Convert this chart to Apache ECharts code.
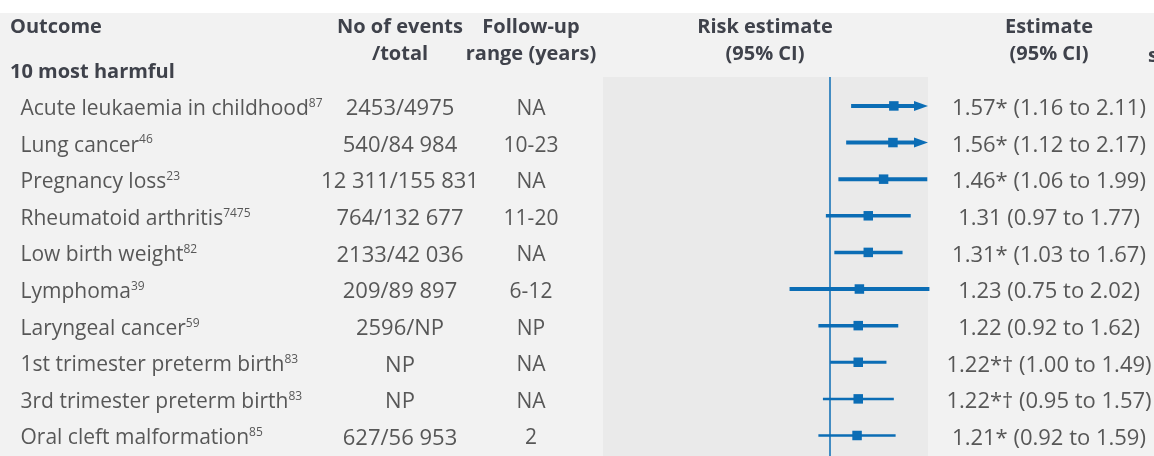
<!DOCTYPE html>
<html>
<head>
<meta charset="utf-8">
<script src="https://cdn.jsdelivr.net/npm/echarts@6/dist/echarts.min.js"></script>
<style>
html,body{margin:0;padding:0;}
#c{width:1154px;height:456px;background:linear-gradient(#ffffff 0px,#ffffff 13px,#f2f2f2 13px,#f2f2f2 456px);}
</style>
</head>
<body>
<div id="c"></div>
<script>
// ---- data ----
const outcomes = ['Acute leukaemia in childhood','Lung cancer','Pregnancy loss','Rheumatoid arthritis','Low birth weight','Lymphoma','Laryngeal cancer','1st trimester preterm birth','3rd trimester preterm birth','Oral cleft malformation'];
const refs = ['87','46','23','7475','82','39','59','83','83','85'];
const events = ['2453/4975','540/84 984','12 311/155 831','764/132 677','2133/42 036','209/89 897','2596/NP','NP','NP','627/56 953'];
const followUp = ['NA','10-23','NA','11-20','NA','6-12','NP','NA','NA','2'];
const estimates = [1.57,1.56,1.46,1.31,1.31,1.23,1.22,1.22,1.22,1.21];
const lower = [1.16,1.12,1.06,0.97,1.03,0.75,0.92,1.00,0.95,0.92];
const upper = [2.11,2.17,1.99,1.77,1.67,2.02,1.62,1.49,1.57,1.59];
const flags = ['*','*','*','','*','','','*\u2020','*\u2020','*'];
const xTicks = [0.2, 1, 2]; // axis range (log scale), reference at 1

// ---- styles ----
const BLUE = '#0b6db5';
const FONT = '"Open Sans"';
const TXT = '#2f2f2f';
const HEAD = '#3f424b';
const ciWidths = [4,4,4,3.5,3.5,4,3.5,3,2.5,2.5];
const ROW_MIN = 0.21, ROW_MAX = 10.56;
const ARROW_LIMIT = 2.05;

const rows = outcomes.map((_, i) => i + 1);
const fmt = v => v.toFixed(2);
const estLabels = estimates.map((e, i) => fmt(e) + flags[i] + ' (' + fmt(lower[i]) + ' to ' + fmt(upper[i]) + ')');

function rowAxis(idx) {
  return {type: 'value', gridIndex: idx, inverse: true, min: ROW_MIN, max: ROW_MAX, show: false};
}
function colAxis(idx) {
  return {type: 'value', gridIndex: idx, min: 0, max: 1, show: false};
}
const gridBase = {top: 77, bottom: 0};
const grids = [
  Object.assign({left: 603, width: 325, show: true, backgroundColor: '#eaeaea', borderWidth: 0}, gridBase),
  Object.assign({left: 20, width: 10}, gridBase),
  Object.assign({left: 395, width: 10}, gridBase),
  Object.assign({left: 526, width: 10}, gridBase),
  Object.assign({left: 1044, width: 10}, gridBase)
];

function textSeries(gi, labels, pos, size, fmtFn) {
  return {
    type: 'scatter', xAxisIndex: gi, yAxisIndex: gi, silent: true,
    symbol: 'circle', symbolSize: 1, itemStyle: {color: 'rgba(0,0,0,0)'},
    data: labels.map((l, i) => [pos, rows[i]]),
    label: {
      show: true, position: pos === 0 ? 'right' : 'inside', distance: 0,
      offset: [0, 3],
      formatter: p => fmtFn(p.dataIndex),
      color: TXT, fontFamily: FONT, fontSize: size,
      rich: {
        n: {color: TXT, fontFamily: FONT, fontSize: size, lineHeight: 23},
        s: {color: TXT, fontFamily: FONT, fontSize: 12, verticalAlign: 'top', lineHeight: 12, padding: [0,0,0,0]}
      }
    }
  };
}

const HFONT = 'bold 20px ' + FONT;
const headStyle = {fill: HEAD, font: HFONT, textAlign: 'center', textVerticalAlign: 'top', lineHeight: 27};

const option = {
  animation: false,
  grid: grids,
  xAxis: [
    {type: 'log', logBase: 10, gridIndex: 0, min: xTicks[0], max: xTicks[2], show: false},
    colAxis(1), colAxis(2), colAxis(3), colAxis(4)
  ],
  yAxis: [rowAxis(0), rowAxis(1), rowAxis(2), rowAxis(3), rowAxis(4)],
  graphic: [
    {type: 'text', x: 10, y: 27.5, style: {text: 'Outcome', fill: HEAD, font: HFONT, textVerticalAlign: 'middle'}},
    {type: 'text', x: 10, y: 72.5, style: {text: '10 most harmful', fill: HEAD, font: HFONT, textVerticalAlign: 'middle'}},
    {type: 'text', x: 400, y: 14, style: Object.assign({text: 'No of events\n/total'}, headStyle)},
    {type: 'text', x: 531, y: 14, style: Object.assign({text: 'Follow-up\nrange (years)'}, headStyle)},
    {type: 'text', x: 765, y: 14, style: Object.assign({text: 'Risk estimate\n(95% CI)'}, headStyle)},
    {type: 'text', x: 1049, y: 14, style: Object.assign({text: 'Estimate\n(95% CI)'}, headStyle)},
    {type: 'text', x: 1148, y: 56, style: {text: 's', fill: HEAD, font: HFONT, textVerticalAlign: 'middle'}}
  ],
  series: [
    {
      type: 'custom', xAxisIndex: 0, yAxisIndex: 0, clip: false, silent: true,
      data: rows.map((r, i) => [lower[i], upper[i], r]),
      encode: {x: [0, 1], y: 2},
      renderItem: function (params, api) {
        const i = params.dataIndex;
        const lo = api.value(0), hi = api.value(1), y = api.value(2);
        const p0 = api.coord([lo, y]);
        const w = ciWidths[i];
        if (hi > ARROW_LIMIT) {
          const tip = api.coord([xTicks[2], y]);
          return {type: 'group', children: [
            {type: 'line', shape: {x1: p0[0], y1: p0[1], x2: tip[0] - 12, y2: p0[1]}, style: {stroke: BLUE, lineWidth: w}},
            {type: 'polygon', shape: {points: [[tip[0], tip[1]], [tip[0] - 14, tip[1] - 5], [tip[0] - 14, tip[1] + 5]]}, style: {fill: BLUE}}
          ]};
        }
        const p1 = api.coord([hi, y]);
        return {type: 'line', shape: {x1: p0[0], y1: p0[1], x2: p1[0], y2: p1[1]}, style: {stroke: BLUE, lineWidth: w}};
      }
    },
    {
      type: 'scatter', xAxisIndex: 0, yAxisIndex: 0, silent: true,
      symbol: 'rect', symbolSize: 9.5, itemStyle: {color: BLUE, opacity: 1},
      data: rows.map((r, i) => [estimates[i], r]),
      markLine: {
        silent: true, symbol: 'none', label: {show: false},
        lineStyle: {color: BLUE, width: 1.5, type: 'solid'},
        data: [{xAxis: xTicks[1]}]
      }
    },
    textSeries(1, outcomes, 0, 21, i => '{n|' + outcomes[i] + '}{s|' + refs[i] + '}'),
    textSeries(2, events, 0.5, 22, i => events[i]),
    textSeries(3, followUp, 0.5, 21, i => followUp[i]),
    textSeries(4, estLabels, 0.5, 22, i => estLabels[i])
  ]
};
const chart = echarts.init(document.getElementById('c'), null, {renderer: 'canvas'});
chart.setOption(option);
</script>
</body>
</html>
